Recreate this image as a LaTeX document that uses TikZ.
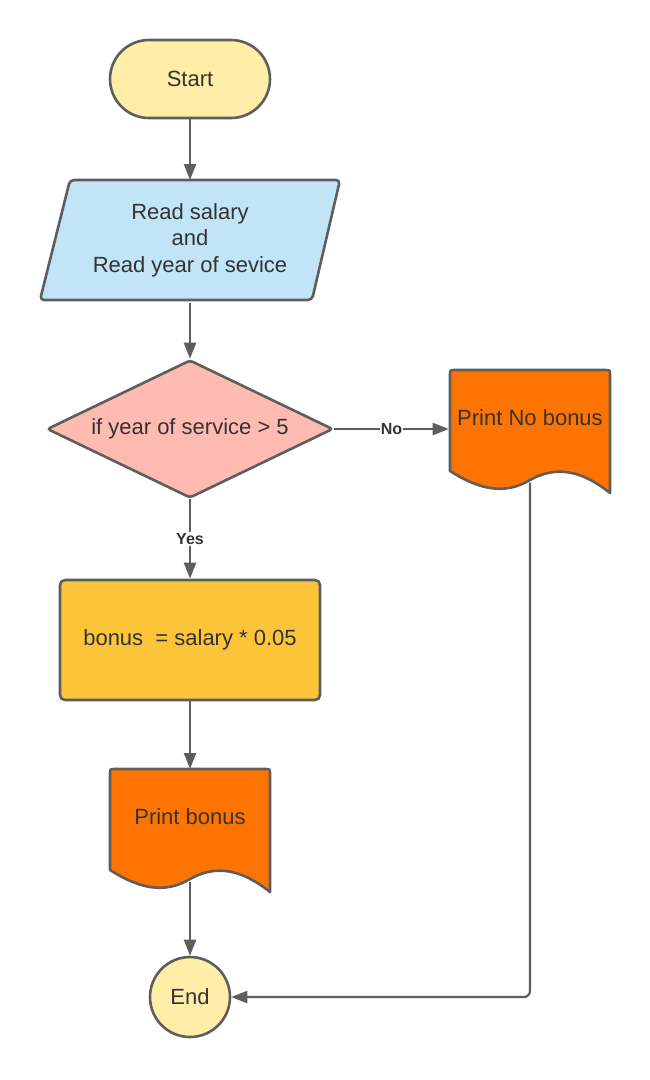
\documentclass[tikz,border=0pt]{standalone}
\usepackage{fontspec}
\setmainfont{Liberation Sans}
\usetikzlibrary{arrows.meta,shapes.geometric}
\definecolor{linec}{HTML}{5E5E5E}
\definecolor{txtc}{HTML}{333333}
\definecolor{termc}{HTML}{FFEDA8}
\definecolor{ioc}{HTML}{C1E4F7}
\definecolor{decc}{HTML}{FFBBB1}
\definecolor{procc}{HTML}{FCC438}
\definecolor{docc}{HTML}{FF7400}
\newcommand{\docshape}[2]{%
  \draw[draw=linec, line width=2.6pt, fill=docc, line join=round]
    (#1,#2+101) -- (#1,#2+5) .. controls (#1,#2) .. (#1+5,#2)
    -- (#1+155,#2) .. controls (#1+160,#2) .. (#1+160,#2+5)
    -- (#1+160,#2+123)
    .. controls (#1+125,#2+95) and (#1+100,#2+99) .. (#1+80,#2+110)
    .. controls (#1+55,#2+125) and (#1+30,#2+120) .. (#1,#2+101) -- cycle;}
\begin{document}
\begin{tikzpicture}[x=1pt,y=-1pt,
  box/.style={draw=linec, line width=2.6pt, text=txtc,
    font=\fontsize{22}{26.5}\selectfont, align=center},
  conn/.style={draw=linec, line width=2.2pt, -{Triangle[length=16pt,width=12pt]}},
  lbl/.style={fill=white, text=txtc, font=\bfseries\fontsize{16}{18}\selectfont, inner sep=1pt}]
\fill[white] (0,0) rectangle (650,1080);
\useasboundingbox (0,0) rectangle (650,1080);

\node[box, fill=termc, minimum width=160pt, minimum height=78pt, rounded corners=39pt] (start) at (190,79) {Start};

\draw[draw=linec, line width=2.6pt, fill=ioc, rounded corners=4pt, line join=round]
  (40,300) -- (70,180) -- (340,180) -- (312,300) -- cycle;
\node[box, draw=none, minimum width=240pt, inner ysep=0pt, text height=91pt, text depth=29pt,
  anchor=north] (read) at (190,180)
  {Read salary\\and\\Read year of sevice};

\node[box, shape=diamond, fill=decc, minimum width=286pt, minimum height=138pt,
  inner sep=0pt, shape aspect=2.07, rounded corners=3pt] (dec) at (190,429) {if year of service > 5};

\node[box, fill=procc, minimum width=260pt, minimum height=120pt, rounded corners=5pt] (bonus) at (190,640)
  {bonus ~= salary * 0.05};

\docshape{110}{769}
\node[box, draw=none, text height=54.5pt, text depth=55.5pt, inner ysep=0pt,
  minimum width=160pt, anchor=north] (pb) at (190,769) {Print bonus};

\docshape{450}{370}
\node[box, draw=none, text height=54.5pt, text depth=55.5pt, inner ysep=0pt,
  minimum width=160pt, anchor=north] (pnb) at (530,370) {Print No bonus};

\node[box, circle, fill=termc, minimum size=80pt, inner sep=0pt] (end) at (190,997) {End};

\draw[conn] (start.south) -- (read.north);
\draw[conn] (read.south) -- (dec.north);
\draw[conn] (dec.east) -- node[lbl]{No} (dec.east -| pnb.west);
\draw[conn] (dec.south) -- node[lbl]{Yes} (bonus.north);
\draw[conn] (bonus.south) -- (pb.north);
\draw[conn] (pb.south) -- (end.north);
\draw[conn, rounded corners=6pt] (pnb.south) |- (end.east);
\end{tikzpicture}
\end{document}
